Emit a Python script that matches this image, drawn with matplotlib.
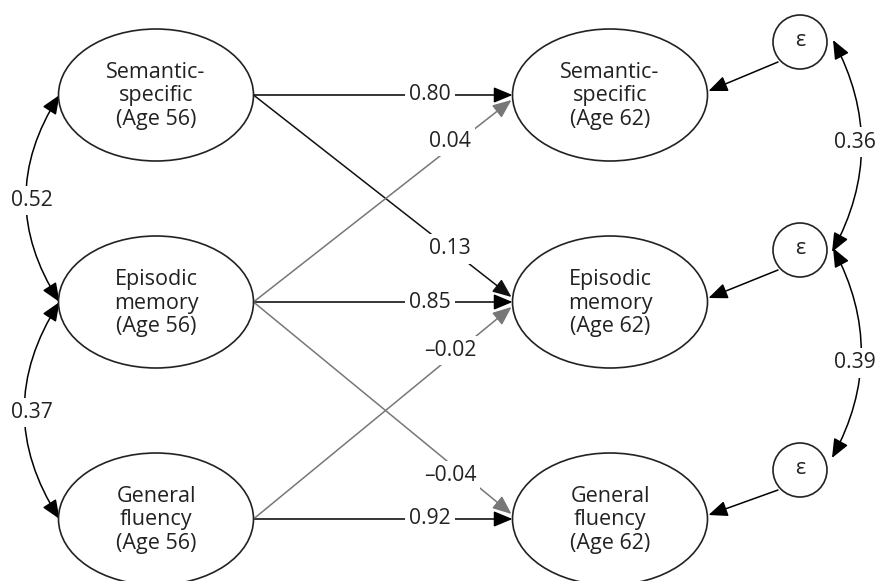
import matplotlib
matplotlib.use("Agg")
import matplotlib.pyplot as plt
from matplotlib.patches import Ellipse, Circle, FancyArrowPatch

plt.rcParams['font.family'] = ['Open Sans', 'DejaVu Sans']

# model content
constructs = ["Semantic-\nspecific", "Episodic\nmemory", "General\nfluency"]
ages = [56, 62]
stability = [0.80, 0.85, 0.92]                 # same construct, age 56 -> age 62
cross_from = [0, 1, 1, 2]
cross_to = [1, 0, 2, 1]
cross_coef = [0.13, 0.04, -0.04, -0.02]
cross_sig = [True, False, False, False]        # black = significant, gray = not
baseline_cov = [0.52, 0.37]                    # between neighbours at age 56
residual_cov = [0.36, 0.39]                    # between neighbour residuals at age 62

# layout (pixel coordinates)
W, H = 876, 581
row_y = [95, 302, 519]
x_left, x_right = 156, 610
ew, eh = 195, 132
eps_x, eps_y, eps_r = 800, [42, 250, 470], 27
label_x = 430
FS = 15.5
GRAY = "#777777"


def fmt(v):
    s = f"{abs(v):.2f}"
    return ("\u2013" + s) if v < 0 else s


def arrow(ax, p0, p1, color="black", style="-|>", rad=0.0):
    a = FancyArrowPatch(p0, p1, arrowstyle=f"{style},head_length=0.72,head_width=0.3",
                        mutation_scale=16, color=color, lw=1.1,
                        connectionstyle=f"arc3,rad={rad}", shrinkA=0, shrinkB=0,
                        zorder=1)
    ax.add_patch(a)


def label(ax, x, y, v):
    ax.text(x, y, fmt(v), fontsize=FS - 0.3, ha="center", va="center", zorder=3,
            color="#222222",
            bbox=dict(fc="white", ec="none", pad=3))


fig = plt.figure(figsize=(W / 100, H / 100), dpi=100)
ax = fig.add_axes([0, 0, 1, 1])
ax.set_xlim(0, W)
ax.set_ylim(H, 0)
ax.axis("off")

# latent variables
for i, name in enumerate(constructs):
    for x, age in zip([x_left, x_right], ages):
        ax.add_patch(Ellipse((x, row_y[i]), ew, eh, fc="white", ec="#222222",
                             lw=1.2, zorder=2))
        ax.text(x, row_y[i] + 1, f"{name}\n(Age {age})", fontsize=FS,
                ha="center", va="center", linespacing=1.17, color="#222222",
                zorder=4)
    # residual terms
    ax.add_patch(Circle((eps_x, eps_y[i]), eps_r, fc="white", ec="#222222",
                        lw=1.2, zorder=2))
    ax.text(eps_x, eps_y[i] - 1, "\u03b5", fontsize=FS, ha="center",
            va="center", zorder=4, color="#222222")
    arrow(ax, (eps_x - 22, eps_y[i] + 20), (x_right + ew / 2 + 1, row_y[i] - 4))

# stability paths
xl = x_left + ew / 2
xr = x_right - ew / 2
for i, v in enumerate(stability):
    arrow(ax, (xl, row_y[i]), (xr, row_y[i]))
    label(ax, label_x, row_y[i], v)

# cross-lagged paths
for s, t, v, sig in zip(cross_from, cross_to, cross_coef, cross_sig):
    y0 = row_y[s]
    y1 = row_y[t] + (5 if t < s else -5)
    col = "#111111" if sig else GRAY
    arrow(ax, (xl, y0), (xr - 1, y1), color=col)
    lx = 450
    frac = (lx - xl) / (xr - 1 - xl)
    ly = y0 + frac * (y1 - y0) + (-7 if t < s else (0 if sig else 12))
    label(ax, lx, ly, v)

# covariances at age 56 (left) and residual covariances (right)
for i, v in enumerate(baseline_cov):
    arrow(ax, (x_left - ew / 2 + 1, row_y[i]), (x_left - ew / 2 + 1, row_y[i + 1]),
          style="<|-|>", rad=0.32)
    label(ax, 32, (row_y[i] + row_y[i + 1]) / 2 + 2, v)

for i, v in enumerate(residual_cov):
    y0 = eps_y[i] - 2
    y1 = eps_y[i + 1] + 2 if i == 0 else eps_y[i + 1] - 12
    arrow(ax, (eps_x + eps_r + 6, y0), (eps_x + eps_r + 5, y1),
          style="<|-|>", rad=-0.27)
    label(ax, 855, (eps_y[i] + eps_y[i + 1]) / 2 + (-4 if i == 0 else 3), v)

fig.savefig("out.png", dpi=100, facecolor="white")
